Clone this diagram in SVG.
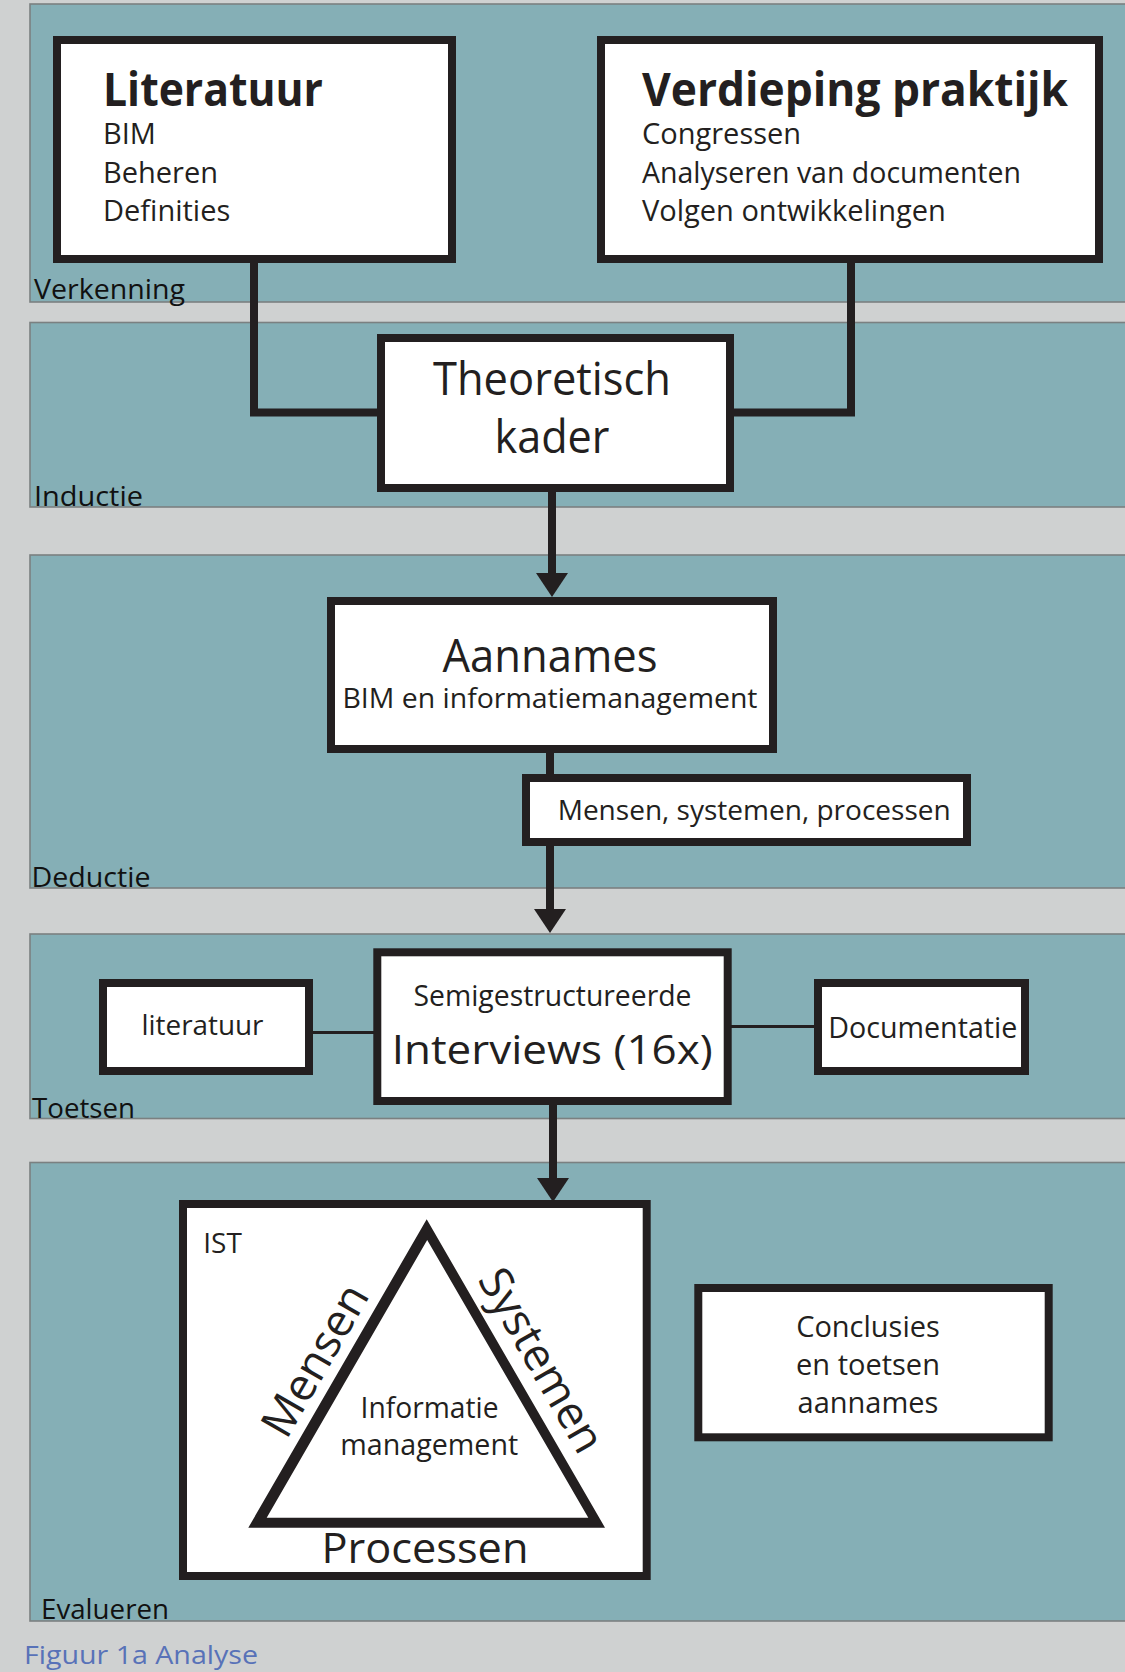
<svg xmlns="http://www.w3.org/2000/svg" width="1125" height="1672" viewBox="0 0 1125 1672">
  <style>
    .band { fill: #85afb6; stroke: #7b8081; stroke-width: 1.6; }
    .box { fill: #ffffff; stroke: #231f20; stroke-width: 8; }
    .wire { fill: none; stroke: #231f20; stroke-width: 8; stroke-linejoin: miter; }
    .thin { fill: none; stroke: #231f20; stroke-width: 3; }
    text { font-family: "Open Sans", "Liberation Sans", sans-serif; fill: #231f20; }
    .bold { font-weight: bold; }
    .mid { text-anchor: middle; }
    .phase { font-size: 27.5px; fill: #111111; }
  </style>
  <defs>
    <marker id="head" viewBox="0 0 24 32" refX="0" refY="16" markerWidth="24" markerHeight="32" markerUnits="userSpaceOnUse" orient="auto">
      <path d="M0,0 L24,16 L0,32 Z" fill="#231f20"/>
    </marker>
  </defs>

  <!-- page background -->
  <rect x="0" y="0" width="1125" height="1672" fill="#cfd1d1"/>

  <!-- phase bands -->
  <g id="bands">
    <rect class="band" x="30" y="4" width="1110" height="298"/>
    <rect class="band" x="30" y="322.5" width="1110" height="184.5"/>
    <rect class="band" x="30" y="555" width="1110" height="333"/>
    <rect class="band" x="30" y="934" width="1110" height="184.5"/>
    <rect class="band" x="30" y="1162.5" width="1110" height="458.5"/>
    <text class="phase" x="34" y="299" textLength="151" lengthAdjust="spacingAndGlyphs">Verkenning</text>
    <text class="phase" x="34" y="506" textLength="109" lengthAdjust="spacingAndGlyphs">Inductie</text>
    <text class="phase" x="31.5" y="886.5" textLength="119" lengthAdjust="spacingAndGlyphs">Deductie</text>
    <text class="phase" x="32" y="1118" textLength="103" lengthAdjust="spacingAndGlyphs">Toetsen</text>
    <text class="phase" x="41" y="1618.5" textLength="128" lengthAdjust="spacingAndGlyphs">Evalueren</text>
  </g>

  <!-- connectors -->
  <g id="connectors">
    <path class="wire" d="M254,263 V412.5 H378"/>
    <path class="wire" d="M851,263 V412.5 H733"/>
    <path class="wire" d="M552,492 V573" marker-end="url(#head)"/>
    <path class="wire" d="M550,753 V775"/>
    <path class="wire" d="M550,846 V909" marker-end="url(#head)"/>
    <path class="wire" d="M553,1105 V1178" marker-end="url(#head)"/>
    <path class="thin" d="M313,1032.5 H374"/>
    <path class="thin" d="M731,1026.5 H815"/>
  </g>

  <g id="literatuur-bronnen">
    <rect class="box" x="57" y="40" width="395" height="219"/>
    <text class="bold" x="103" y="106" font-size="46" textLength="220" lengthAdjust="spacingAndGlyphs">Literatuur</text>
    <text x="103" y="144" font-size="29">BIM</text>
    <text x="103" y="182.7" font-size="29">Beheren</text>
    <text x="103" y="220.7" font-size="29">Definities</text>
  </g>

  <g id="verdieping-praktijk">
    <rect class="box" x="601" y="40" width="498" height="219"/>
    <text class="bold" x="642" y="106" font-size="46" textLength="426" lengthAdjust="spacingAndGlyphs">Verdieping praktijk</text>
    <text x="642" y="144" font-size="29">Congressen</text>
    <text x="642" y="183" font-size="29" textLength="379" lengthAdjust="spacingAndGlyphs">Analyseren van documenten</text>
    <text x="642" y="221" font-size="29">Volgen ontwikkelingen</text>
  </g>

  <g id="theoretisch-kader">
    <rect class="box" x="381" y="338" width="349" height="150"/>
    <text class="mid" x="552" y="395" font-size="45" textLength="238" lengthAdjust="spacingAndGlyphs">Theoretisch</text>
    <text class="mid" x="552" y="453" font-size="45" textLength="115" lengthAdjust="spacingAndGlyphs">kader</text>
  </g>

  <g id="aannames">
    <rect class="box" x="331" y="601" width="442" height="148"/>
    <text class="mid" x="550" y="671.7" font-size="46" textLength="215" lengthAdjust="spacingAndGlyphs">Aannames</text>
    <text class="mid" x="550" y="708.3" font-size="27.5" textLength="415" lengthAdjust="spacingAndGlyphs">BIM en informatiemanagement</text>
  </g>

  <g id="mensen-systemen-processen">
    <rect class="box" x="526" y="778" width="441" height="64"/>
    <text x="557.7" y="820" font-size="27" textLength="393" lengthAdjust="spacingAndGlyphs">Mensen, systemen, processen</text>
  </g>

  <g id="literatuur-toets">
    <rect class="box" x="103" y="983" width="206" height="88"/>
    <text class="mid" x="202.5" y="1035" font-size="28" textLength="122" lengthAdjust="spacingAndGlyphs">literatuur</text>
  </g>

  <g id="interviews">
    <rect class="box" x="377.3" y="952.3" width="350.4" height="148.7"/>
    <text class="mid" x="552.5" y="1006" font-size="28.5" textLength="278" lengthAdjust="spacingAndGlyphs">Semigestructureerde</text>
    <text class="mid" x="552.2" y="1064.3" font-size="41" textLength="321" lengthAdjust="spacingAndGlyphs">Interviews (16x)</text>
  </g>

  <g id="documentatie">
    <rect class="box" x="818" y="983" width="207" height="88"/>
    <text class="mid" x="922.8" y="1038.3" font-size="29" textLength="189" lengthAdjust="spacingAndGlyphs">Documentatie</text>
  </g>

  <g id="ist">
    <rect class="box" x="183" y="1204" width="463.7" height="372"/>
    <text x="203.3" y="1253.3" font-size="28">IST</text>
    <path d="M426.7,1219.3 L605,1527.7 L248.3,1527.7 Z M427.2,1240 L588.3,1517.7 L266.7,1517.7 Z" fill="#231f20" fill-rule="evenodd"/>
    <text class="mid" x="429.5" y="1417.7" font-size="29" textLength="138" lengthAdjust="spacingAndGlyphs">Informatie</text>
    <text class="mid" x="429.2" y="1455" font-size="29" textLength="178" lengthAdjust="spacingAndGlyphs">management</text>
    <text class="mid" x="425" y="1563.3" font-size="42" textLength="207" lengthAdjust="spacingAndGlyphs">Processen</text>
    <text class="mid" font-size="45" transform="translate(328.5,1368) rotate(-60)">Mensen</text>
    <text class="mid" font-size="45" transform="translate(528.2,1368) rotate(60)">Systemen</text>
  </g>

  <g id="conclusies">
    <rect class="box" x="698.3" y="1288" width="350.4" height="149.3"/>
    <text class="mid" x="868" y="1336.8" font-size="29">Conclusies</text>
    <text class="mid" x="868" y="1374.8" font-size="29">en toetsen</text>
    <text class="mid" x="868" y="1413.2" font-size="29">aannames</text>
  </g>

  <text x="24" y="1664.3" font-size="26" fill="#5872b8" style="fill:#5872b8" textLength="234" lengthAdjust="spacingAndGlyphs">Figuur 1a Analyse</text>
</svg>
